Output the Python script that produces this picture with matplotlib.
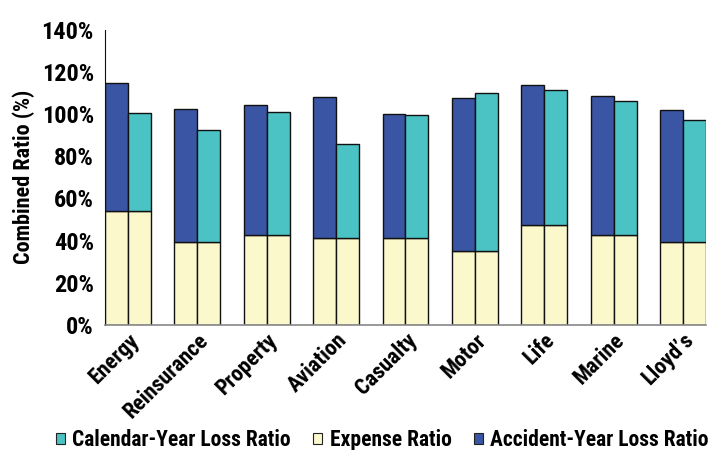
import matplotlib
matplotlib.use("Agg")
import matplotlib.pyplot as plt
from matplotlib import font_manager
import numpy as np
from matplotlib.patches import Patch

# Prefer a bold condensed sans face for all chart text
installed = {f.name for f in font_manager.fontManager.ttflist}
preferred = ["Roboto Condensed", "Archivo Narrow", "PT Sans Narrow",
             "Liberation Sans Narrow", "Barlow Condensed", "Roboto"]
family = [f for f in preferred if f in installed][:1] + ["DejaVu Sans"]
plt.rcParams['font.family'] = family
plt.rcParams['font.weight'] = 'bold'
plt.rcParams['axes.labelweight'] = 'bold'

categories = ["Energy", "Reinsurance", "Property", "Aviation", "Casualty",
              "Motor", "Life", "Marine", "Lloyd\u2019s"]
expense_ratio = [54, 39.5, 42.5, 41, 41, 35, 47.5, 42.5, 39.5]
accident_year_loss = [60.5, 63, 62, 67, 59, 72.5, 66.5, 66, 62.5]
calendar_year_loss = [46.5, 53, 58.5, 45, 58.5, 75, 64, 63.5, 57.5]
y_ticks = [0, 20, 40, 60, 80, 100, 120, 140]

c_exp = "#FBF8CC"
c_ay = "#3A55A3"
c_cy = "#4BC2C4"

fig = plt.figure(figsize=(7.12, 4.5), dpi=100)
ax = fig.add_axes([0.1475, 0.278, 0.844, 0.656])

x = np.arange(len(categories))
w = 0.33
kw = dict(width=w, edgecolor="#111111", linewidth=1.0, align="edge")
ax.bar(x - w, expense_ratio, color=c_exp, **kw)
ax.bar(x - w, accident_year_loss, bottom=expense_ratio, color=c_ay, **kw)
ax.bar(x, expense_ratio, color=c_exp, **kw)
ax.bar(x, calendar_year_loss, bottom=expense_ratio, color=c_cy, **kw)

ax.set_xlim(-w, len(categories) - 1 + w)
ax.set_ylim(0, 140)
ax.set_yticks(y_ticks)
ax.set_yticklabels([f"{v}%" for v in y_ticks], fontsize=17.5)
ax.set_xticks(x)
ax.set_xticklabels(categories, rotation=45, ha="right", rotation_mode="anchor",
                   fontsize=16)
ax.tick_params(axis="y", length=0, pad=8)
ax.tick_params(axis="x", length=0, pad=3)
ax.set_ylabel("Combined Ratio (%)", fontsize=16, labelpad=4.5)

for s in ("top", "right"):
    ax.spines[s].set_visible(False)
ax.spines["left"].set_color("#111111")
ax.spines["bottom"].set_color("#888888")
ax.spines["bottom"].set_linewidth(1.2)

handles = [
    Patch(facecolor=c_cy, edgecolor="#222222", linewidth=0.8),
    Patch(facecolor=c_exp, edgecolor="#222222", linewidth=0.8),
    Patch(facecolor=c_ay, edgecolor="#222222", linewidth=0.8),
]
labels = ["Calendar-Year Loss Ratio", "Expense Ratio", "Accident-Year Loss Ratio"]
fig.legend(handles, labels, loc="center", bbox_to_anchor=(0.537, 0.022), ncol=3,
           frameon=False, fontsize=15.5, handlelength=0.42, handleheight=0.42,
           handletextpad=0.33, columnspacing=1.05, borderpad=0)

fig.savefig("out.png", dpi=100)
